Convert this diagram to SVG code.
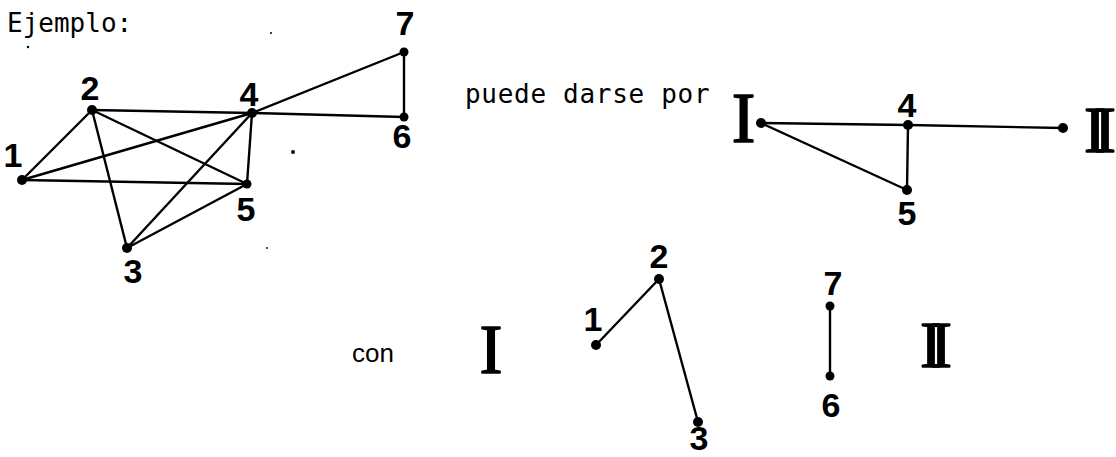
<svg xmlns="http://www.w3.org/2000/svg" width="1116" height="457" viewBox="0 0 1116 457">
  <style>
    .mono { font-family: "DejaVu Sans Mono", "Liberation Mono", monospace; fill: #000; }
    .num { font-family: "Liberation Sans", Arial, sans-serif; font-weight: bold; font-size: 34px; fill: #000; text-anchor: middle; }
    .rom { font-family: "Liberation Serif", "Times New Roman", serif; font-weight: normal; fill: #000; stroke: #000; stroke-width: 1.6; stroke-linejoin: round; }
    .edge { stroke: #000; stroke-width: 2.4; stroke-linecap: round; fill: none; }
    .dot { fill: #000; }
    .sans { font-family: "Liberation Sans", Arial, sans-serif; fill: #000; }
  </style>
  <rect width="1116" height="457" fill="#fff"/>

  <text class="mono" x="7" y="32" font-size="26">Ejemplo:</text>
  <text class="mono" x="465" y="103" font-size="26" letter-spacing="0.7">puede darse por</text>
  <text class="sans" x="352" y="362" font-size="26">con</text>

  <!-- connectors -->
  <g id="connectors">
    <!-- left graph -->
    <line class="edge" x1="22" y1="180" x2="92" y2="110"/>
    <line class="edge" x1="22" y1="180" x2="252" y2="113"/>
    <line class="edge" x1="22" y1="180" x2="247" y2="184"/>
    <line class="edge" x1="92" y1="110" x2="252" y2="113"/>
    <line class="edge" x1="92" y1="110" x2="247" y2="184"/>
    <line class="edge" x1="92" y1="110" x2="127" y2="248"/>
    <line class="edge" x1="127" y1="248" x2="252" y2="113"/>
    <line class="edge" x1="127" y1="248" x2="247" y2="184"/>
    <line class="edge" x1="252" y1="113" x2="247" y2="184"/>
    <line class="edge" x1="252" y1="113" x2="404" y2="52"/>
    <line class="edge" x1="252" y1="113" x2="404" y2="117"/>
    <line class="edge" x1="404" y1="52" x2="404" y2="117"/>
    <!-- right graph -->
    <line class="edge" x1="761" y1="123" x2="908" y2="125" stroke-width="2.2"/>
    <line class="edge" x1="908" y1="125" x2="1063" y2="128" stroke-width="2.2"/>
    <line class="edge" x1="761" y1="123" x2="907" y2="190" stroke-width="2.2"/>
    <line class="edge" x1="908" y1="125" x2="907" y2="190" stroke-width="2.2"/>
    <!-- bottom components -->
    <line class="edge" x1="596" y1="345" x2="659" y2="279" stroke-width="2"/>
    <line class="edge" x1="659" y1="279" x2="698" y2="422" stroke-width="2"/>
    <line class="edge" x1="830" y1="306" x2="830" y2="376" stroke-width="1.6"/>
  </g>

  <!-- left graph nodes -->
  <g id="n1"><circle class="dot" cx="22" cy="180" r="5"/><text class="num" x="13" y="167">1</text></g>
  <g id="n2"><circle class="dot" cx="92" cy="110" r="5"/><text class="num" x="90" y="100">2</text></g>
  <g id="n3"><circle class="dot" cx="127" cy="248" r="5"/><text class="num" x="133" y="283">3</text></g>
  <g id="n4"><circle class="dot" cx="252" cy="113" r="5"/><text class="num" x="249" y="106">4</text></g>
  <g id="n5"><circle class="dot" cx="247" cy="184" r="4.5"/><text class="num" x="246" y="221">5</text></g>
  <g id="n6"><circle class="dot" cx="404" cy="117" r="4.5"/><text class="num" x="402" y="148">6</text></g>
  <g id="n7"><circle class="dot" cx="404" cy="52" r="4.5"/><text class="num" x="405" y="35">7</text></g>

  <!-- right graph nodes -->
  <g id="rI"><circle class="dot" cx="761" cy="123" r="5"/><text class="rom" x="743.5" y="142" font-size="71" text-anchor="middle">I</text></g>
  <g id="r4"><circle class="dot" cx="908" cy="125" r="5"/><text class="num" x="907" y="117">4</text></g>
  <g id="r5"><circle class="dot" cx="907" cy="190" r="5"/><text class="num" x="907" y="225">5</text></g>
  <g id="rII"><circle class="dot" cx="1063" cy="128" r="5"/><text class="rom" x="1084" y="152" font-size="66" letter-spacing="-12">II</text></g>

  <!-- bottom -->
  <g id="bI"><text class="rom" x="491" y="373" font-size="69" text-anchor="middle">I</text></g>
  <g id="b1"><circle class="dot" cx="596" cy="345" r="5"/><text class="num" x="593" y="331">1</text></g>
  <g id="b2"><circle class="dot" cx="659" cy="279" r="5"/><text class="num" x="659" y="268">2</text></g>
  <g id="b3"><circle class="dot" cx="698" cy="422" r="5"/><text class="num" x="699" y="450" font-size="31">3</text></g>
  <g id="b7"><circle class="dot" cx="830" cy="306" r="4.5"/><text class="num" x="833" y="295" font-size="37">7</text></g>
  <g id="b6"><circle class="dot" cx="830" cy="376" r="4.5"/><text class="num" x="831" y="417" font-size="37">6</text></g>
  <g id="bII"><text class="rom" x="920" y="367" font-size="66" letter-spacing="-12">II</text></g>

  <!-- scan specks -->
  <g id="specks" fill="#000">
    <circle cx="293" cy="152" r="2"/>
    <circle cx="271" cy="33" r="1"/>
    <circle cx="28" cy="47" r="1.2"/>
    <circle cx="267" cy="248" r="0.9"/>
  </g>
</svg>
